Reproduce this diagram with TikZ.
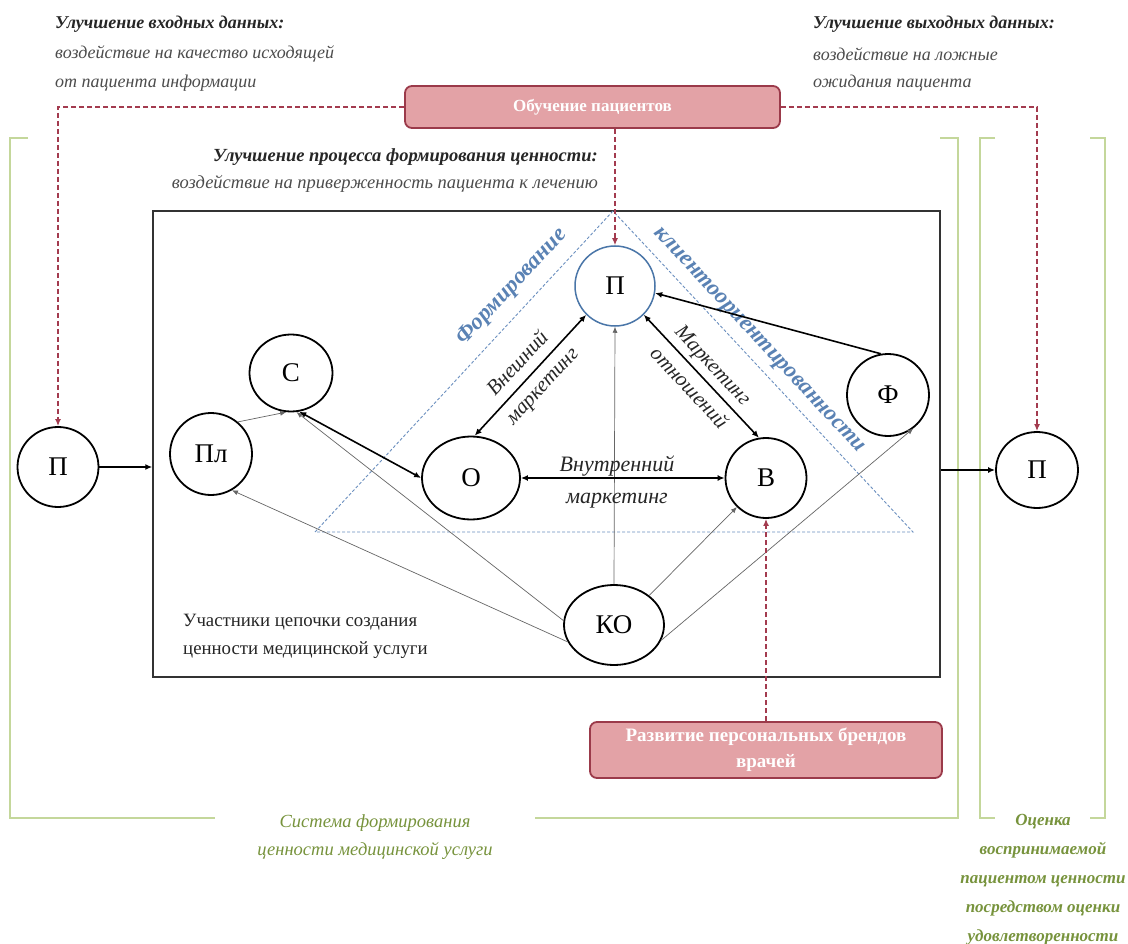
\documentclass[tikz,border=0pt]{standalone}
\usepackage{fontspec}
\setmainfont{Liberation Serif}
\usetikzlibrary{shapes.geometric,arrows.meta,calc}
\definecolor{pinkfill}{HTML}{E3A2A6}
\definecolor{pinkdraw}{HTML}{9B3A4A}
\definecolor{dred}{HTML}{A33B4F}
\definecolor{triblue}{HTML}{6B8FBF}
\definecolor{lblue}{HTML}{5A82B4}
\definecolor{pblue}{HTML}{4A76A8}
\definecolor{grline}{HTML}{C4D79B}
\definecolor{grtext}{HTML}{77933C}
\tikzset{
  hdr/.style={font=\fontsize{18}{21}\selectfont\bfseries\itshape, text=black!85, inner sep=0},
  dsc/.style={font=\fontsize{18}{21}\selectfont\itshape, text=black!70, inner sep=0},
  hdrb/.style={font=\fontsize{18.5}{21}\selectfont\bfseries\itshape, text=black!85, inner sep=0},
  dscb/.style={font=\fontsize{18.5}{21}\selectfont\itshape, text=black!70, inner sep=0},
  nd/.style={ellipse, draw=black, line width=1.8pt, inner sep=0, font=\fontsize{27}{27}\selectfont},
  thk/.style={line width=1.6pt, -{Latex[length=7pt,width=6pt]}},
  dbl/.style={line width=1.6pt, {Latex[length=7pt,width=6pt]}-{Latex[length=7pt,width=6pt]}},
  thn/.style={line width=0.7pt, draw=black!60, -{Latex[length=6pt,width=5pt]}},
  rdash/.style={draw=dred, line width=1.5pt, dash pattern=on 5pt off 3pt, -{Latex[length=7pt,width=6pt]}},
  tri/.style={draw=triblue, line width=0.9pt, dash pattern=on 3pt off 2pt},
  grn/.style={draw=grline, line width=1.3pt},
  gtxt/.style={text=grtext, font=\fontsize{18.5}{28}\selectfont\itshape, align=center, inner sep=0},
  gtxtb/.style={text=grtext, font=\fontsize{17}{29}\selectfont\bfseries\itshape, align=center, inner sep=0},
  pbox/.style={rounded corners=7pt, fill=pinkfill, draw=pinkdraw, line width=1.8pt, text=white, font=\fontsize{17}{26}\selectfont\bfseries, align=center, inner sep=0},
  pboxb/.style={pbox, font=\fontsize{19}{26}\selectfont\bfseries},
  elab/.style={font=\fontsize{22}{32}\selectfont\itshape, align=center, text=black!85, inner sep=0},
  elabs/.style={font=\fontsize{21}{33}\selectfont\itshape, align=center, text=black!85, inner sep=0},
  blab/.style={font=\fontsize{23}{23}\selectfont\bfseries\itshape, text=lblue, inner sep=0},
  plain/.style={font=\fontsize{18.8}{28}\selectfont, text=black!85, inner sep=0, align=left}
}
\begin{document}
\begin{tikzpicture}[x=1pt,y=-1pt]
\useasboundingbox (0,0) rectangle (1128,944);
\fill[white] (0,0) rectangle (1128,944);

% green brackets
\draw[grn] (28,138) -- (10,138) -- (10,818) -- (215,818);
\draw[grn] (535,818) -- (958,818) -- (958,138) -- (940,138);
\draw[grn] (995,138) -- (980,138) -- (980,818) -- (995,818);
\draw[grn] (1090,138) -- (1105,138) -- (1105,818) -- (1090,818);

% top texts
\node[hdr, anchor=west] (h1) at (55,24) {Улучшение входных данных:};
\node[dsc, anchor=west] (d1a) at (55,54) {воздействие на качество исходящей};
\node[dsc, anchor=west] (d1b) at (55,83) {от пациента информации};
\node[hdr, anchor=west] (h2) at (813,24) {Улучшение выходных данных:};
\node[dsc, anchor=west] (d2a) at (813,54) {воздействие на ложные};
\node[dsc, anchor=west] (d2b) at (813,83) {ожидания пациента};
\node[hdrb, anchor=east] (h3) at (598,157) {Улучшение процесса формирования ценности:};
\node[dscb, anchor=east] (d3) at (598,184) {воздействие на приверженность пациента к лечению};

% pink boxes
\node[pbox, minimum width=375pt, minimum height=42pt] (tb) at (592.5,107) {Обучение пациентов};
\node[pboxb, minimum width=352pt, minimum height=56pt] (bb) at (766,750) {Развитие персональных брендов\\врачей};

% main box
\node[draw=black!80, line width=1.5pt, minimum width=787pt, minimum height=466pt, inner sep=0] (box) at (546.5,444) {};

% triangle
\coordinate (ta) at (613,211);
\coordinate (tl) at (315,532);
\coordinate (tr) at (913,532);
\draw[tri] (ta) -- (tl) -- (tr) -- cycle;
\node[blab, rotate=47] (fl) at (512,287) {Формирование};
\node[blab, rotate=-47] (fr) at (758,341) {клиентоориентированности};

% nodes
\node[nd, draw=pblue, line width=1.5pt, minimum width=80pt, minimum height=80pt] (P) at (615,286) {П};
\node[nd, minimum width=98pt, minimum height=83pt] (O) at (471,478) {О};
\node[nd, minimum width=81pt, minimum height=80pt] (B) at (766,478) {В};
\node[nd, minimum width=82pt, minimum height=82pt] (F) at (888,395) {Ф};
\node[nd, minimum width=83pt, minimum height=77pt] (S) at (291,373) {С};
\node[nd, minimum width=82pt, minimum height=82pt] (Pl) at (211,454) {Пл};
\node[nd, minimum width=100pt, minimum height=80pt] (KO) at (614,625) {КО};
\node[nd, minimum width=81pt, minimum height=80pt] (LP) at (58,467) {П};
\node[nd, minimum width=82pt, minimum height=76pt] (RP) at (1037,470) {П};

% inner text
\node[plain, anchor=west] (u1) at (183,622) {Участники цепочки создания};
\node[plain, anchor=west] (u2) at (183,650) {ценности медицинской услуги};

% thin edges
\draw[thn] (Pl.50) -- (S.-97);
\draw[thn] (KO.175) -- (S.-82);
\draw[thn] (KO.200) -- (Pl.-60);
\draw[thn] (KO.north) -- (P.south);
\draw[thn] (KO.40) -- (B.225);
\draw[thn] (KO.-18) -- (F.-53);

% thick edges
\draw[dbl] (S.-78) -- (O.west);
\draw[dbl] (O.85) -- node[sloped, elabs] {Внешний\\маркетинг} (P.-135);
\draw[dbl] (P.-45) -- node[sloped, elabs] {Маркетинг\\отношений} (B.100);
\draw[dbl] (O.east) -- (B.west);
\node[elab] (vm) at (617,482) {Внутренний\\маркетинг};
\draw[thk] (F.100) -- (P.-10);
\draw[thk] (LP.east) -- (box.west |- LP.east);
\draw[thk] (box.east |- RP.west) -- (RP.west);

% dashed red connectors
\draw[rdash] (tb.west) -| (LP.north);
\draw[rdash] (tb.east) -| (RP.north);
\draw[rdash] (P.north |- tb.south) -- (P.north);
\draw[rdash] (B.south |- bb.north) -- (B.south);

% green labels
\node[gtxt] (g1) at (375,837) {Система формирования\\ценности медицинской услуги};
\node[gtxtb] (g2) at (1043,880) {Оценка\\воспринимаемой\\пациентом ценности\\посредством оценки\\удовлетворенности};
\end{tikzpicture}
\end{document}
